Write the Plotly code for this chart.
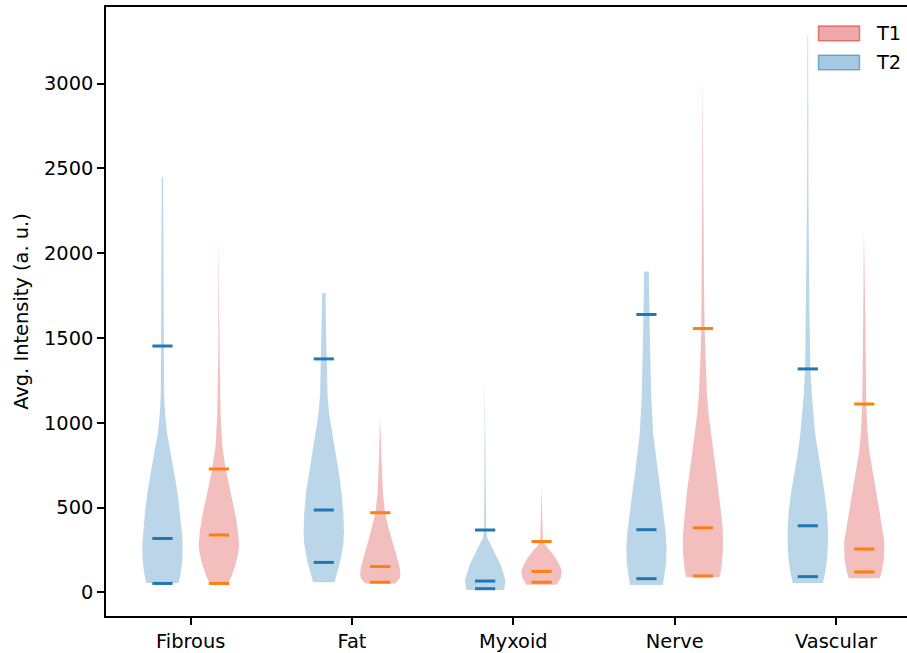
import plotly.graph_objects as go

categories = ["Fibrous", "Fat", "Myxoid", "Nerve", "Vascular"]
y_ticks = [0, 500, 1000, 1500, 2000, 2500, 3000]
series_names = ["T1", "T2"]

# Density profiles (intensity, relative density)
fibrous_t2_int = [56, 121, 191, 283, 353, 470, 586, 702, 819, 935, 1051, 1167, 1453, 1865, 2446]
fibrous_t2_den = [48, 55, 59, 60, 58, 52, 45, 35, 25, 14, 8, 5, 4, 3, 2]
fibrous_t1_int = [53, 97, 167, 237, 283, 353, 447, 539, 632, 728, 865, 1051, 1400, 2114]
fibrous_t1_den = [28, 38, 50, 58, 60, 57, 50, 40, 30, 20, 10, 5, 2, 1]

fat_t2_int = [60, 121, 191, 283, 353, 470, 586, 702, 819, 935, 1051, 1167, 1377, 1632, 1765]
fat_t2_den = [32, 40, 50, 58, 60, 58, 53, 45, 35, 25, 16, 11, 8, 6, 5]
fat_t1_int = [53, 84, 107, 144, 191, 237, 307, 377, 470, 586, 819, 1046]
fat_t1_den = [45, 58, 60, 58, 52, 45, 35, 25, 14, 8, 3, 1]

myxoid_t2_int = [15, 31, 70, 90, 129, 168, 207, 246, 285, 324, 370, 700, 1275]
myxoid_t2_den = [56, 58, 60, 58, 52, 45, 35, 25, 15, 6, 3, 2, 1]
myxoid_t1_int = [45, 90, 129, 168, 207, 246, 266, 285, 299, 450, 620]
myxoid_t1_den = [45, 58, 60, 52, 40, 25, 15, 8, 4, 2, 1]

nerve_t2_int = [44, 97, 167, 260, 353, 470, 586, 702, 819, 935, 1167, 1400, 1632, 1893]
nerve_t2_den = [49, 53, 58, 60, 57, 50, 42, 34, 26, 20, 14, 11, 9, 7]
nerve_t1_int = [90, 144, 237, 330, 400, 470, 586, 702, 819, 935, 1051, 1167, 1400, 1556, 1865, 2330, 3074]
nerve_t1_den = [50, 55, 59, 60, 58, 54, 48, 40, 32, 24, 17, 12, 7, 5, 3, 2, 1]

vascular_t2_int = [56, 121, 191, 283, 377, 470, 586, 702, 819, 935, 1167, 1318, 1632, 2330, 3284]
vascular_t2_den = [45, 52, 57, 60, 60, 57, 50, 40, 30, 22, 12, 8, 5, 2, 1]
vascular_t1_int = [84, 121, 191, 260, 307, 377, 470, 586, 702, 819, 935, 1111, 1632, 2144]
vascular_t1_den = [46, 52, 58, 60, 59, 54, 46, 36, 26, 16, 10, 6, 3, 1]

# Marker lines (low, median, high) per category
t2_quantiles = [[53, 318, 1453], [177, 486, 1377], [22, 67, 368], [81, 370, 1639], [93, 393, 1318]]
t1_quantiles = [[53, 339, 728], [60, 153, 470], [60, 124, 300], [97, 381, 1556], [121, 256, 1111]]

t2_profiles = [(fibrous_t2_int, fibrous_t2_den), (fat_t2_int, fat_t2_den), (myxoid_t2_int, myxoid_t2_den),
               (nerve_t2_int, nerve_t2_den), (vascular_t2_int, vascular_t2_den)]
t1_profiles = [(fibrous_t1_int, fibrous_t1_den), (fat_t1_int, fat_t1_den), (myxoid_t1_int, myxoid_t1_den),
               (nerve_t1_int, nerve_t1_den), (vascular_t1_int, vascular_t1_den)]

BLUE = "#1f77b4"
ORANGE = "#ff7f0e"
T2_FILL = "rgba(31,119,180,0.3)"
T1_FILL = "rgba(214,39,40,0.3)"
FONT = "DejaVu Sans"
FS = 19.4

OFFSET = 0.35
HALF_W = 0.25
LINE_HALF = 0.125

fig = go.Figure()


def add_violin(pos, ints, dens, fill, qs, qcolor, name):
    m = max(dens)
    w = [HALF_W * d / m for d in dens]
    xs = [pos + wi for wi in w] + [pos - wi for wi in reversed(w)]
    ys = list(ints) + list(reversed(ints))
    xs.append(xs[0])
    ys.append(ys[0])
    fig.add_trace(go.Scatter(x=xs, y=ys, mode="lines", fill="toself", fillcolor=fill, name=name,
                             line=dict(width=0, color=fill), showlegend=False, hoverinfo="skip"))
    for q in qs:
        fig.add_trace(go.Scatter(x=[pos - LINE_HALF, pos + LINE_HALF], y=[q, q], mode="lines",
                                 line=dict(color=qcolor, width=3), showlegend=False, hoverinfo="skip"))


tick_pos = []
for i, cat in enumerate(categories):
    pos = 2 * (i + 1)
    tick_pos.append(pos)
    add_violin(pos - OFFSET, *t2_profiles[i], T2_FILL, t2_quantiles[i], BLUE, "T2")
    add_violin(pos + OFFSET, *t1_profiles[i], T1_FILL, t1_quantiles[i], ORANGE, "T1")

# manual legend (patches + labels), in paper coordinates of the plot area
L, R, T, B = 106, 907, 7, 619


def px_x(p):
    return (p - L) / (R - L)


def px_y(p):
    return (B - p) / (B - T)


legend_styles = [("rgba(214,39,40,0.4)", "rgba(214,39,40,0.55)", 26, 41),
                 ("rgba(31,119,180,0.4)", "rgba(31,119,180,0.55)", 55.5, 70)]
for name, (fc, lc, top, bot) in zip(series_names, legend_styles):
    fig.add_shape(type="rect", xref="paper", yref="paper",
                  x0=px_x(818.5), x1=px_x(859.5), y0=px_y(bot), y1=px_y(top),
                  fillcolor=fc, line=dict(color=lc, width=1.5))
    fig.add_annotation(xref="paper", yref="paper", x=px_x(874), y=px_y((top + bot) / 2),
                       text=name, showarrow=False, xanchor="left", yanchor="middle",
                       font=dict(family=FONT, size=FS, color="black"))

fig.update_layout(
    width=907, height=653,
    margin=dict(l=106, r=0, t=7, b=34),
    paper_bgcolor="white", plot_bgcolor="white",
    font=dict(family=FONT, size=FS, color="black"),
    showlegend=False,
)
fig.update_xaxes(range=[0.95, 10.88], tickvals=tick_pos, ticktext=categories,
                 showline=True, linecolor="black", linewidth=1.6, mirror=True,
                 ticks="outside", ticklen=7, tickwidth=1.6, tickcolor="black",
                 showgrid=False, zeroline=False)
fig.update_yaxes(range=[-139, 3452], tickvals=y_ticks,
                 showline=True, linecolor="black", linewidth=1.6, mirror=False,
                 ticks="outside", ticklen=7, tickwidth=1.6, tickcolor="black",
                 showgrid=False, zeroline=False,
                 title=dict(text="Avg. Intensity (a. u.)", standoff=10, font=dict(family=FONT, size=FS)))

fig.write_html("out.html")
